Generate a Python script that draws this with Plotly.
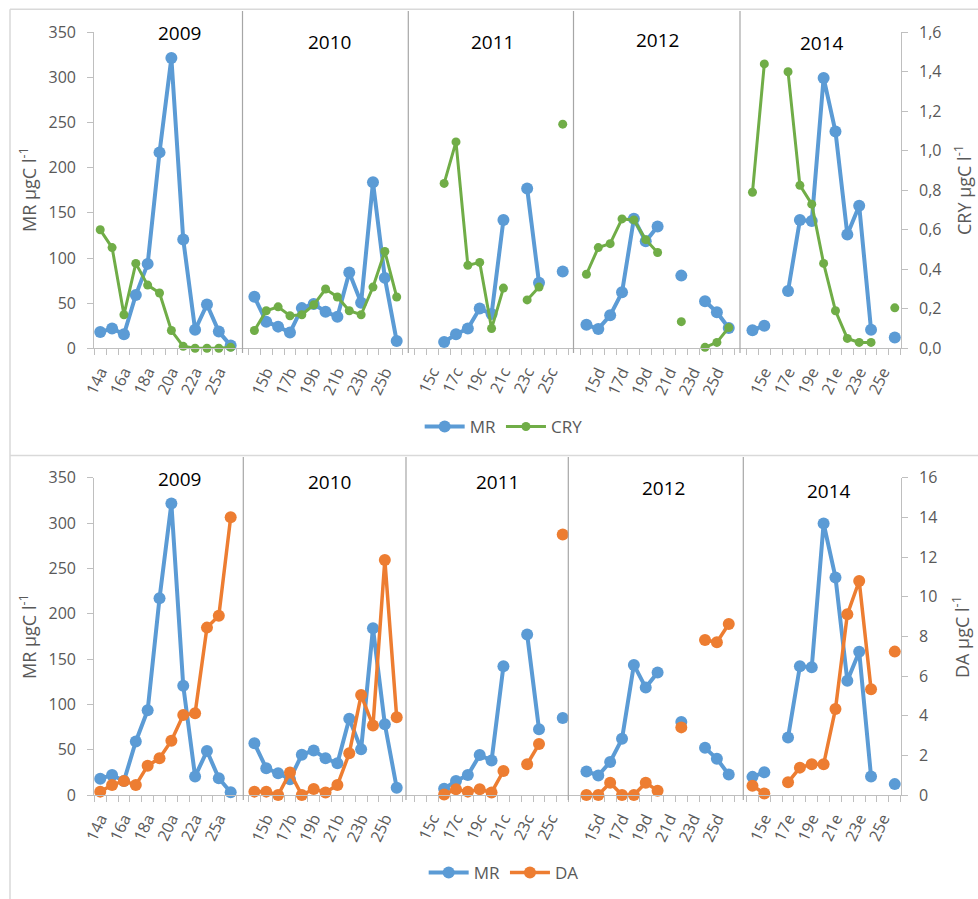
import plotly.graph_objects as go

W, H = 978, 899

years = ["2009", "2010", "2011", "2012", "2014"]

cat_2009 = ["14a", "15a", "16a", "17a", "18a", "19a", "20a", "21a", "22a", "23a", "25a", "26a"]
cat_2010 = ["14b", "15b", "16b", "17b", "18b", "19b", "20b", "21b", "22b", "23b", "24b", "25b", "26b"]
cat_2011 = ["14c", "15c", "16c", "17c", "18c", "19c", "20c", "21c", "22c", "23c", "24c", "25c", "26c"]
cat_2012 = ["14d", "15d", "16d", "17d", "18d", "19d", "20d", "21d", "22d", "23d", "24d", "25d", "26d"]
cat_2014 = ["14e", "15e", "16e", "17e", "18e", "19e", "20e", "21e", "22e", "23e", "24e", "25e", "26e"]

mr_2009 = [18, 22, 15.5, 59, 93.5, 217, 321.5, 120.5, 20.5, 48.5, 18.5, 3]
mr_2010 = [57, 29.5, 24, 17.5, 44.5, 49, 40.5, 35, 84, 50.5, 184, 78, 8]
mr_2011 = [None, None, 7, 15.5, 22, 44, 38, 142, None, 177, 72.5, None, 85]
mr_2012 = [26, 21.5, 36.5, 62, 143.5, 118.5, 135, None, 80.5, None, 52, 40, 22.5]
mr_2014 = [20, 25, None, 63.5, 142, 141, 299.5, 240, 126, 158, 20.5, None, 12]

cry_2009 = [0.60, 0.51, 0.17, 0.43, 0.32, 0.28, 0.09, 0.01, 0.0, 0.0, 0.0, 0.005]
cry_2010 = [0.09, 0.19, 0.21, 0.165, 0.17, 0.22, 0.30, 0.26, 0.19, 0.17, 0.31, 0.49, 0.26]
cry_2011 = [None, None, 0.835, 1.045, 0.42, 0.435, 0.10, 0.305, None, 0.245, 0.31, None, 1.135]
cry_2012 = [0.375, 0.51, 0.53, 0.655, 0.65, 0.55, 0.485, None, 0.135, None, 0.005, 0.03, 0.105]
cry_2014 = [0.79, 1.44, None, 1.40, 0.825, 0.73, 0.43, 0.19, 0.05, 0.03, 0.03, None, 0.205]

da_2009 = [0.17, 0.50, 0.71, 0.50, 1.48, 1.85, 2.74, 4.03, 4.12, 8.44, 9.04, 14.0]
da_2010 = [0.17, 0.17, 0.0, 1.13, 0.0, 0.30, 0.13, 0.50, 2.10, 5.04, 3.50, 11.85, 3.92]
da_2011 = [None, None, 0.02, 0.29, 0.17, 0.29, 0.13, 1.21, None, 1.55, 2.57, None, 13.14]
da_2012 = [0.0, 0.0, 0.62, 0.0, 0.0, 0.62, 0.22, None, 3.41, None, 7.82, 7.70, 8.62]
da_2014 = [0.47, 0.08, None, 0.64, 1.38, 1.55, 1.55, 4.34, 9.11, 10.79, 5.33, None, 7.23]

cats_by_year = [cat_2009, cat_2010, cat_2011, cat_2012, cat_2014]
mr_by_year = [mr_2009, mr_2010, mr_2011, mr_2012, mr_2014]
cry_by_year = [cry_2009, cry_2010, cry_2011, cry_2012, cry_2014]
da_by_year = [da_2009, da_2010, da_2011, da_2012, da_2014]

# One category axis, with a blank separator category between years
categories, mr, cry, da = [], [], [], []
for i in range(len(years)):
    if i > 0:
        categories.append("")
        mr.append(None); cry.append(None); da.append(None)
    categories += cats_by_year[i]
    mr += mr_by_year[i]
    cry += cry_by_year[i]
    da += da_by_year[i]

xi = list(range(len(categories)))
tickvals = [i for i in xi if i % 2 == 0 and categories[i]]
ticktext = [categories[i] for i in tickvals]

BLUE = "#5B9BD5"
GREEN = "#70AD47"
ORANGE = "#ED7D31"
AX = "#BFBFBF"
TXT = "#595959"
FONT = "Open Sans"


def px_x(p):
    return p / W


def px_y(p):
    return 1 - p / H


fig = go.Figure()
fig.add_trace(go.Scatter(x=xi, y=mr, mode="lines+markers", name="MR", xaxis="x", yaxis="y",
                         line=dict(color=BLUE, width=4), marker=dict(color=BLUE, size=12),
                         cliponaxis=False, legend="legend"))
fig.add_trace(go.Scatter(x=xi, y=cry, mode="lines+markers", name="CRY", xaxis="x", yaxis="y2",
                         line=dict(color=GREEN, width=3), marker=dict(color=GREEN, size=9),
                         cliponaxis=False, legend="legend"))
fig.add_trace(go.Scatter(x=xi, y=mr, mode="lines+markers", name="MR", xaxis="x2", yaxis="y3",
                         line=dict(color=BLUE, width=4), marker=dict(color=BLUE, size=12),
                         cliponaxis=False, legend="legend2"))
fig.add_trace(go.Scatter(x=xi, y=da, mode="lines+markers", name="DA", xaxis="x2", yaxis="y4",
                         line=dict(color=ORANGE, width=3.5), marker=dict(color=ORANGE, size=12),
                         cliponaxis=False, legend="legend2"))

xdom = [px_x(94.3), px_x(900.7)]
top_dom = [px_y(348.3), px_y(32.3)]
bot_dom = [px_y(795), px_y(477.7)]

xcommon = dict(range=[-0.5, len(categories) - 0.5], tickmode="array", tickvals=tickvals, ticktext=ticktext,
               tickangle=-65, ticks="", showline=True, linecolor=AX, linewidth=1.3, automargin=False,
               tickfont=dict(family=FONT, size=16, color=TXT), showgrid=False, zeroline=False,
               ticklabelstandoff=7,
               minor=dict(tickmode="linear", tick0=-0.5, dtick=1, ticks="outside", ticklen=6,
                          tickcolor=AX, tickwidth=1.3, showgrid=False))
ycommon = dict(showline=True, linecolor=AX, linewidth=1.3, ticks="outside", ticklen=6, tickcolor=AX,
               tickwidth=1.3, showgrid=False, zeroline=False, automargin=False,
               tickfont=dict(family=FONT, size=16, color=TXT), ticklabelstandoff=8)

fig.update_layout(
    template="none",
    width=W, height=H, margin=dict(l=0, r=0, t=0, b=0, pad=0), autosize=False,
    paper_bgcolor="white", plot_bgcolor="white", separators=",.",
    font=dict(family=FONT, color=TXT),
    xaxis=dict(domain=xdom, anchor="y", **xcommon),
    xaxis2=dict(domain=xdom, anchor="y3", **xcommon),
    yaxis=dict(domain=top_dom, anchor="x", range=[0, 350], tickvals=[0, 50, 100, 150, 200, 250, 300, 350], **ycommon),
    yaxis2=dict(overlaying="y", side="right", anchor="x", range=[0, 1.6], tickmode="linear", tick0=0, dtick=0.2,
                tickformat=".1f", **ycommon),
    yaxis3=dict(domain=bot_dom, anchor="x2", range=[0, 350], tickvals=[0, 50, 100, 150, 200, 250, 300, 350], **ycommon),
    yaxis4=dict(overlaying="y3", side="right", anchor="x2", range=[0, 16], tickmode="linear", tick0=0, dtick=2,
                **ycommon),
    legend=dict(orientation="h", x=0.515, y=px_y(427), xanchor="center", yanchor="middle",
                font=dict(family=FONT, size=17, color=TXT), itemwidth=40, bgcolor="rgba(0,0,0,0)"),
    legend2=dict(orientation="h", x=0.515, y=px_y(873), xanchor="center", yanchor="middle",
                 font=dict(family=FONT, size=17, color=TXT), itemwidth=40, bgcolor="rgba(0,0,0,0)"),
    showlegend=True,
)

shapes = []
# chart-area borders
for (x0, y0, x1, y1) in [(10, 9.3, W, 9.3), (10, 9.3, 10, H), (10, 455.5, W, 455.5)]:
    shapes.append(dict(type="line", xref="paper", yref="paper", x0=px_x(x0), x1=px_x(x1), y0=px_y(y0), y1=px_y(y1),
                       line=dict(color="#D9D9D9", width=1.5)))
# year separators
for xs in [242.5, 408.3, 573.5, 740]:
    shapes.append(dict(type="line", xref="paper", yref="paper", x0=px_x(xs), x1=px_x(xs), y0=px_y(11), y1=px_y(353),
                       line=dict(color="#A6A6A6", width=1.2)))
for xs in [243.3, 406, 568.3, 743.3]:
    shapes.append(dict(type="line", xref="paper", yref="paper", x0=px_x(xs), x1=px_x(xs), y0=px_y(457), y1=px_y(800),
                       line=dict(color="#A6A6A6", width=1.2)))
fig.update_layout(shapes=shapes)

annotations = []
year_pos_top = [(179, 33), (329, 42), (492, 42), (657, 40), (822, 43)]
year_pos_bot = [(179, 479), (329, 482), (497, 482), (663, 488), (829, 491)]
for yr, (ax_, ay_) in zip(years, year_pos_top):
    annotations.append(dict(text=yr, x=px_x(ax_), y=px_y(ay_), xref="paper", yref="paper", showarrow=False,
                            xanchor="center", yanchor="middle", font=dict(family=FONT, size=19, color="black")))
for yr, (ax_, ay_) in zip(years, year_pos_bot):
    annotations.append(dict(text=yr, x=px_x(ax_), y=px_y(ay_), xref="paper", yref="paper", showarrow=False,
                            xanchor="center", yanchor="middle", font=dict(family=FONT, size=19, color="black")))

titles = [("MR µgC l<sup>-1</sup>", 28, 190), ("CRY µgC l<sup>-1</sup>", 963, 190),
          ("MR µgC l<sup>-1</sup>", 28, 637), ("DA µgC l<sup>-1</sup>", 961, 637)]
for t, ax_, ay_ in titles:
    annotations.append(dict(text=t, x=px_x(ax_), y=px_y(ay_), xref="paper", yref="paper", showarrow=False,
                            textangle=-90, xanchor="center", yanchor="middle",
                            font=dict(family=FONT, size=18, color=TXT)))
fig.update_layout(annotations=annotations)

# remove the default page margin so the figure sits at the window's top-left corner
fig.write_html("out.html", config={"displayModeBar": False},
               post_script="document.body.style.margin='0px';")
